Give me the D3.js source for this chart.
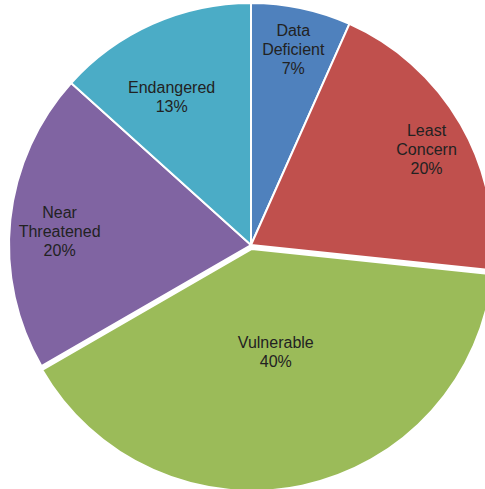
<!DOCTYPE html>
<html>
<head>
<meta charset="utf-8">
<script src="https://cdn.jsdelivr.net/npm/d3@7/dist/d3.min.js"></script>
<style>
html, body { margin: 0; padding: 0; background: #fff; overflow: hidden; }
svg { display: block; }
</style>
</head>
<body>
<svg id="chart" width="485" height="489"></svg>
<script>
// Data (species counts by IUCN status; 15 total)
const categories = ["Data Deficient", "Least Concern", "Vulnerable", "Near Threatened", "Endangered"];
const counts = [1, 3, 6, 3, 2];
const colors = ["#4F81BD", "#C0504D", "#9BBB59", "#8064A2", "#4BACC6"];

// Layout (not data)
const cx = 251, cy = 245, R = 242;
const labelRadiusFrac = [0.827, 0.827, 0.455, 0.793, 0.694];
const labelAngleShift = [0.2, 1.3, -1, -1.8, -4.2]; // degrees
const explode = [0, 0, 4, 0, 0];

const svg = d3.select("#chart");
const g = svg.append("g").attr("transform", `translate(${cx},${cy})`);

const total = d3.sum(counts);
const pie = d3.pie().sort(null).value(d => d)(counts);
const arc = d3.arc().innerRadius(0).outerRadius(R);

const slices = g.selectAll("g.slice").data(pie).enter().append("g")
  .attr("class", "slice")
  .attr("transform", (d, i) => {
    const a = (d.startAngle + d.endAngle) / 2;
    return `translate(${Math.sin(a) * explode[i]},${-Math.cos(a) * explode[i]})`;
  });

slices.append("path")
  .attr("d", arc)
  .attr("fill", (d, i) => colors[i])
  .attr("stroke", "#fff")
  .attr("stroke-width", 2)
  .attr("stroke-linejoin", "round");

slices.each(function (d, i) {
  const a = (d.startAngle + d.endAngle) / 2 + labelAngleShift[i] * Math.PI / 180;
  const r = R * labelRadiusFrac[i];
  const x = Math.sin(a) * r - Math.sin((d.startAngle + d.endAngle) / 2) * explode[i],
        y = -Math.cos(a) * r + Math.cos((d.startAngle + d.endAngle) / 2) * explode[i];
  const words = categories[i].split(" ");
  const lines = words.concat([Math.round(d.value / total * 100) + "%"]);
  const lh = 19;
  const t = d3.select(this).append("text")
    .attr("text-anchor", "middle")
    .attr("font-family", "Liberation Sans, Arial, sans-serif")
    .attr("font-size", 16)
    .attr("fill", "#222");
  lines.forEach((ln, k) => {
    t.append("tspan")
      .attr("x", x)
      .attr("y", y + (k - (lines.length - 1) / 2) * lh)
      .attr("dy", "0.35em")
      .text(ln);
  });
});
</script>
</body>
</html>
